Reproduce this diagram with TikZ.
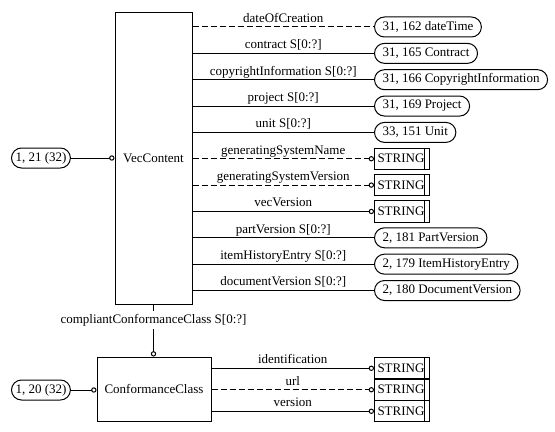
\documentclass[tikz,border=0pt]{standalone}
\usepackage{fontspec}
\setmainfont{Liberation Serif}
\usetikzlibrary{arrows.meta}
\begin{document}
\begin{tikzpicture}[x=0.75pt,y=-0.75pt,line width=0.75pt,
  every node/.style={font=\fontsize{9.75}{11}\selectfont},
  entity/.style={draw,inner sep=0pt},
  ref/.style={draw,rounded corners=7.5pt,minimum height=15pt,inner xsep=6pt,inner ysep=0pt,anchor=west},
  simple/.style={draw,anchor=west,inner xsep=2.25pt,inner ysep=0pt,text width=36.75pt,align=left,
    minimum height=16pt,
    path picture={\draw ([xshift=-3.75pt]path picture bounding box.north east)
      -- ([xshift=-3.75pt]path picture bounding box.south east);}},
  rel/.style={-{Circle[open,length=4pt]}},
  opt/.style={dash pattern=on 4.5pt off 2.25pt},
  lbl/.style={anchor=base,inner sep=0pt,yshift=3.4pt}]
\useasboundingbox (0,0) rectangle (555,431);

% entities
\node[entity,minimum width=57.75pt,minimum height=218.25pt] (vec) at (153.5,158.5) {VecContent};
\node[entity,minimum width=85.5pt,minimum height=48pt] (cc) at (154,389) {ConformanceClass};

% page references on the left
\node[ref,inner xsep=3pt,minimum width=40.5pt] (p1) at (11,158) {1, 21 (32)};
\node[ref,inner xsep=3pt,minimum width=40.5pt] (p2) at (11,390) {1, 20 (32)};
\draw[rel] (p1.east) -- (vec.west |- p1.east);
\draw[rel] (p2.east) -- (cc.west |- p2.east);

% attribute targets of VecContent
\node[ref] (t1) at (374,27) {31, 162 dateTime};
\node[ref] (t2) at (374,53.35) {31, 165 Contract};
\node[ref] (t3) at (374,79.7) {31, 166 CopyrightInformation};
\node[ref] (t4) at (374,106.05) {31, 169 Project};
\node[ref] (t5) at (374,132.4) {33, 151 Unit};
\node[simple] (t6) at (374,158.75) {STRING};
\node[simple] (t7) at (374,185.1) {STRING};
\node[simple] (t8) at (374,211.45) {STRING};
\node[ref] (t9) at (374,237.8) {2, 181 PartVersion};
\node[ref] (t10) at (374,264.15) {2, 179 ItemHistoryEntry};
\node[ref] (t11) at (374,290.5) {2, 180 DocumentVersion};

\draw[opt] (vec.east |- t1.west) -- node[lbl]{dateOfCreation} (t1.west);
\draw (vec.east |- t2.west) -- node[lbl]{contract S[0:?]} (t2.west);
\draw (vec.east |- t3.west) -- node[lbl]{copyrightInformation S[0:?]} (t3.west);
\draw (vec.east |- t4.west) -- node[lbl]{project S[0:?]} (t4.west);
\draw (vec.east |- t5.west) -- node[lbl]{unit S[0:?]} (t5.west);
\draw[opt,rel] (vec.east |- t6.west) -- node[lbl]{generatingSystemName} (t6.west);
\draw[opt,rel] (vec.east |- t7.west) -- node[lbl]{generatingSystemVersion} (t7.west);
\draw[rel] (vec.east |- t8.west) -- node[lbl]{vecVersion} (t8.west);
\draw (vec.east |- t9.west) -- node[lbl]{partVersion S[0:?]} (t9.west);
\draw (vec.east |- t10.west) -- node[lbl]{itemHistoryEntry S[0:?]} (t10.west);
\draw (vec.east |- t11.west) -- node[lbl]{documentVersion S[0:?]} (t11.west);

% VecContent to ConformanceClass
\draw[rel] (vec.south) -- node[pos=0.3,fill=white,inner xsep=1pt,inner ysep=2pt]{compliantConformanceClass S[0:?]} (vec.south |- cc.north);

% attributes of ConformanceClass
\node[simple] (s1) at (374,368.25) {STRING};
\node[simple] (s2) at (374,389.75) {STRING};
\node[simple] (s3) at (374,411.25) {STRING};
\draw[rel] (cc.east |- s1.west) -- node[lbl]{identification} (s1.west);
\draw[opt,rel] (cc.east |- s2.west) -- node[lbl]{url} (s2.west);
\draw[rel] (cc.east |- s3.west) -- node[lbl]{version} (s3.west);
\end{tikzpicture}
\end{document}
